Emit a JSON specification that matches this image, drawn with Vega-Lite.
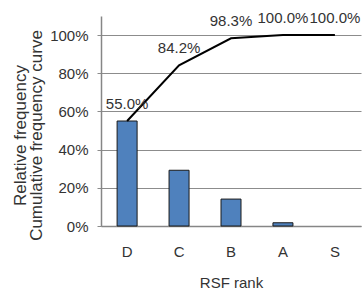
{
  "$schema": "https://vega.github.io/schema/vega-lite/v6.json",
  "width": 260,
  "height": 210,
  "autosize": {"type": "none"},
  "padding": {"left": 101, "top": 16, "right": 2, "bottom": 65},
  "background": "white",
  "config": {
    "view": {"stroke": null},
    "font": "Liberation Sans",
    "axis": {"labelFont": "Liberation Sans", "titleFont": "Liberation Sans", "labelFontSize": 15, "titleFontSize": 15, "labelColor": "#333333", "titleColor": "#333333", "titleFontWeight": "normal"}
  },
  "data": {
    "values": [
      {"rank": "D", "rel": 0.550, "cum": 0.550},
      {"rank": "C", "rel": 0.292, "cum": 0.842},
      {"rank": "B", "rel": 0.141, "cum": 0.983},
      {"rank": "A", "rel": 0.017, "cum": 1.000},
      {"rank": "S", "rel": 0.000, "cum": 1.000}
    ]
  },
  "layer": [
    {
      "transform": [{"filter": "datum.rel > 0"}],
      "mark": {"type": "bar", "color": "#4f81bd", "stroke": "#1a1a1a", "strokeWidth": 1},
      "encoding": {
        "x": {
          "field": "rank", "type": "nominal", "sort": ["D", "C", "B", "A", "S"],
          "scale": {"paddingInner": 0.615, "paddingOuter": 0.31},
          "axis": {"title": "RSF rank", "labelAngle": 0, "ticks": false, "labelPadding": 18, "titlePadding": 16, "domainColor": "#868686", "domainWidth": 1.5, "grid": false}
        },
        "y": {
          "field": "rel", "type": "quantitative",
          "scale": {"domain": [0, 1.1], "nice": false},
          "axis": {
            "title": ["Relative frequency", "Cumulative frequency curve"],
            "values": [0, 0.2, 0.4, 0.6, 0.8, 1.0],
            "format": ".0%",
            "grid": true, "gridColor": "#8c8c8c", "gridWidth": 1,
            "ticks": true, "tickSize": 4, "tickColor": "#8c8c8c",
            "domainColor": "#868686", "domainWidth": 1.5,
            "labelPadding": 9,
            "titleFontSize": 17,
            "titleAngle": -90, "titleX": -76, "titleY": 119, "titleBaseline": "alphabetic", "titleAlign": "center", "titleLineHeight": 16
          }
        }
      }
    },
    {
      "mark": {"type": "line", "color": "#000000", "strokeWidth": 2},
      "encoding": {
        "x": {"field": "rank", "type": "nominal", "sort": ["D", "C", "B", "A", "S"]},
        "y": {"field": "cum", "type": "quantitative"}
      }
    },
    {
      "mark": {"type": "text", "font": "Liberation Sans", "fontSize": 15, "color": "#333333", "baseline": "bottom", "dy": -9},
      "encoding": {
        "x": {"field": "rank", "type": "nominal", "sort": ["D", "C", "B", "A", "S"]},
        "y": {"field": "cum", "type": "quantitative"},
        "text": {"field": "cum", "type": "quantitative", "format": ".1%"}
      }
    }
  ]
}
